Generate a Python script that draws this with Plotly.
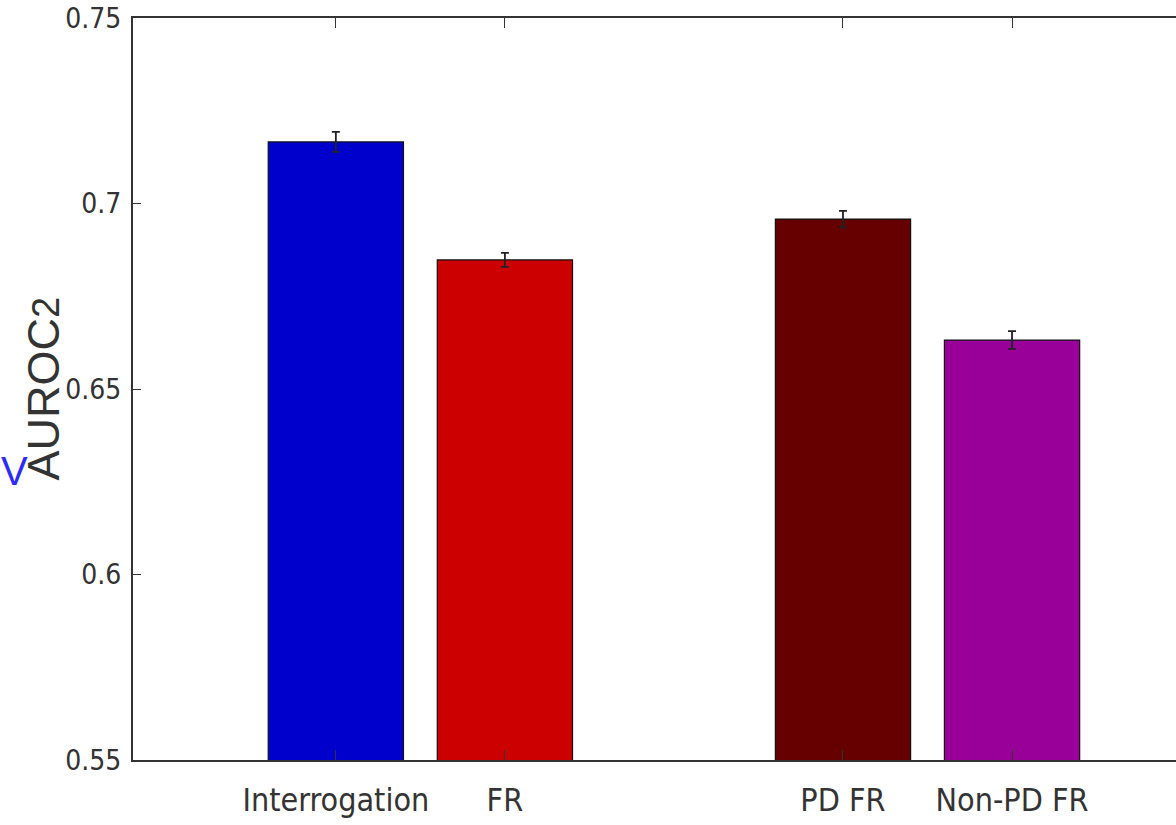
import plotly.graph_objects as go

categories = ["Interrogation", "FR", "PD FR", "Non-PD FR"]
positions = [1, 2, 4, 5]
auroc2 = [0.7166, 0.6848, 0.6958, 0.6632]
errors = [0.0027, 0.0019, 0.0022, 0.0024]
colors = ["#0000cc", "#cc0000", "#660000", "#990099"]
y_ticks = [0.55, 0.6, 0.65, 0.7, 0.75]
y_ticklabels = ["0.55", "0.6", "0.65", "0.7", "0.75"]

fig = go.Figure()
fig.add_trace(go.Bar(
    x=positions, y=auroc2, base=0,
    width=0.8,
    marker=dict(color=colors, line=dict(color="#111111", width=1.2)),
    error_y=dict(type="data", array=errors, visible=True, color="#222222", thickness=1.8, width=4),
    showlegend=False,
))

narrow = "DejaVu Sans Condensed, Liberation Sans Narrow, sans-serif"
fig.update_layout(
    width=1176, height=825,
    margin=dict(l=133, r=0, t=18, b=65),
    paper_bgcolor="white", plot_bgcolor="white",
    xaxis=dict(
        range=[-0.2, 5.97], automargin=False,
        tickmode="array", tickvals=positions, ticktext=categories,
        ticks="inside", ticklen=10, tickwidth=1.2, tickcolor="#333333",
        showline=True, linecolor="#333333", linewidth=2, mirror="ticks",
        showgrid=False, zeroline=False,
        tickfont=dict(family=narrow, size=32, color="#333333"),
        ticklabelstandoff=11,
    ),
    yaxis=dict(
        range=[0.55, 0.75], automargin=False,
        tickmode="array", tickvals=y_ticks, ticktext=y_ticklabels,
        ticks="inside", ticklen=8, tickwidth=1.2, tickcolor="#333333",
        showline=True, linecolor="#333333", linewidth=2, mirror=False,
        showgrid=False, zeroline=False,
        tickfont=dict(family=narrow, size=28, color="#333333"),
        ticklabelstandoff=4,
    ),
    annotations=[
        dict(text="AUROC<span style='font-size:38px'>2</span>", textangle=-90,
             xref="paper", yref="paper", x=-0.086, y=0.501,
             xanchor="center", yanchor="middle", showarrow=False,
             font=dict(family="Liberation Sans, Arial, sans-serif", size=45, color="#333333")),
        dict(text="V", xref="paper", yref="paper", x=-0.114, y=0.39,
             xanchor="center", yanchor="middle", showarrow=False,
             font=dict(family="Liberation Sans, Arial, sans-serif", size=40, color="#2b2bff")),
    ],
)

fig.write_html("out.html", config={"displayModeBar": False},
               post_script="document.body.style.margin='0';")
